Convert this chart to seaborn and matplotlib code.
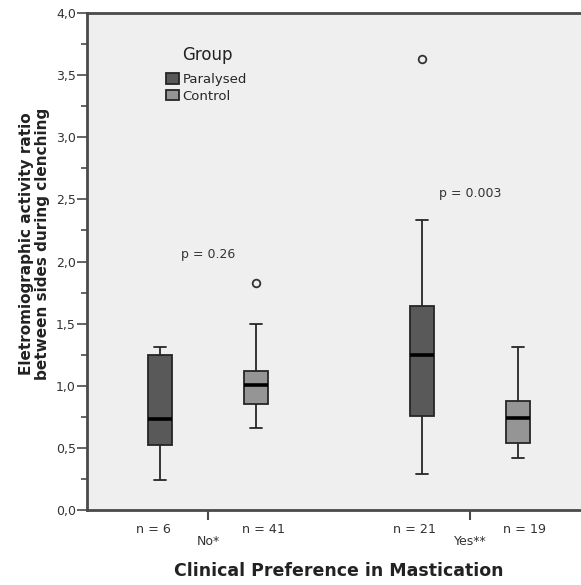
import numpy as np
import pandas as pd
import matplotlib
matplotlib.use("Agg")
import matplotlib.pyplot as plt
from matplotlib.ticker import MultipleLocator, FuncFormatter
import seaborn as sns

# ---- data ----
preference = ["No*", "No*", "Yes**", "Yes**"]
group = ["Paralysed", "Control", "Paralysed", "Control"]
n_counts = [6, 41, 21, 19]
whisker_low = [0.24, 0.66, 0.29, 0.42]
q1 = [0.52, 0.85, 0.76, 0.54]
median = [0.73, 1.01, 1.245, 0.74]
q3 = [1.25, 1.12, 1.64, 0.88]
whisker_high = [1.31, 1.50, 2.33, 1.31]
outliers = [[], [1.83], [3.63], []]

categories = ["No*", "Yes**"]
groups = ["Paralysed", "Control"]
p_values = ["p = 0.26", "p = 0.003"]
p_heights = [2.06, 2.55]

# Build per-box value lists whose quartiles / whiskers equal the read summary
rows = []
for i in range(4):
    vals = [whisker_low[i], q1[i], q1[i], median[i], median[i], q3[i], q3[i],
            whisker_high[i]] + (outliers[i] if outliers[i] else [whisker_high[i]])
    for v in vals:
        rows.append({"Preference": preference[i], "Group": group[i], "Ratio": v})
df = pd.DataFrame(rows)

sns.set_theme(style="white")
plt.rcParams["font.family"] = ["DejaVu Sans"]

W, H = 581, 585
fig = plt.figure(figsize=(W / 100, H / 100), dpi=100)
fig.patch.set_facecolor("white")
ax = fig.add_axes([87 / W, 75 / H, 1 - 87 / W, (510 - 13) / H])
ax.set_facecolor("#efefef")

box_width = 0.733
palette = {"Paralysed": "#595959", "Control": "#959595"}
sns.boxplot(data=df, x="Preference", y="Ratio", hue="Group",
            order=categories, hue_order=groups, palette=palette,
            width=box_width, gap=0.744, saturation=1, linecolor="#262626",
            linewidth=1.3, fliersize=5.5, legend=True, ax=ax,
            medianprops={"color": "black", "linewidth": 2.6},
            flierprops={"marker": "o", "markerfacecolor": "none",
                        "markeredgecolor": "#333333", "markeredgewidth": 1.3})

ax.set_xlim(-0.462, 1.424)
ax.set_ylim(0, 4.0)

# axes styling
for side in ["left", "bottom", "top"]:
    ax.spines[side].set_visible(True)
    ax.spines[side].set_color("#4a4a4a")
    ax.spines[side].set_linewidth(2.0)
ax.spines["right"].set_visible(False)

ax.yaxis.set_major_locator(MultipleLocator(0.5))
ax.yaxis.set_minor_locator(MultipleLocator(0.25))
ax.yaxis.set_major_formatter(FuncFormatter(lambda v, p: f"{v:.1f}".replace(".", ",")))
ax.tick_params(axis="y", which="major", direction="out", length=7, width=1.2,
               color="#4a4a4a", labelsize=9, labelcolor="#333333", pad=1, left=True)
ax.tick_params(axis="y", which="minor", direction="out", length=4, width=1.2,
               color="#4a4a4a", left=True)
ax.tick_params(axis="x", direction="out", length=7, width=1.5, color="#4a4a4a",
               labelsize=9, labelcolor="#333333", pad=11, bottom=True)

ax.set_xlabel("Clinical Preference in Mastication", fontsize=12.5,
              fontweight="bold", color="#222222")
ax.xaxis.set_label_coords(0.51, -0.105)
ax.set_ylabel("Eletromiographic activity ratio\nbetween sides during clenching",
              fontsize=11, fontweight="bold", color="#222222",
              linespacing=1.05)
ax.yaxis.set_label_coords(-0.075, 0.535)

# n labels under each box
n_offset = 0.21
k = 0
for ci, cat in enumerate(categories):
    for gi, g in enumerate(groups):
        xpos = ci + (-n_offset if gi == 0 else n_offset)
        ax.text(xpos, -0.0385, f"n = {n_counts[k]}", transform=ax.get_xaxis_transform(),
                ha="center", va="center", fontsize=9.2, color="#333333")
        k += 1

# p-values
for ci, (pv, ph) in enumerate(zip(p_values, p_heights)):
    ax.text(ci, ph, pv, ha="center", va="center", fontsize=9, color="#333333")

# legend
sns.move_legend(ax, loc="upper left", bbox_to_anchor=(166 / W, 1 - 73 / H),
                bbox_transform=fig.transFigure, frameon=False, title="",
                fontsize=9.5, handlelength=1.0,
                handleheight=0.85, handletextpad=0.25, labelspacing=0.27,
                borderpad=0, borderaxespad=0)
fig.text(207 / W, 1 - 55 / H, "Group", ha="center", va="center",
         fontsize=12, color="#222222")

fig.savefig("out.png", dpi=100, facecolor="white")
